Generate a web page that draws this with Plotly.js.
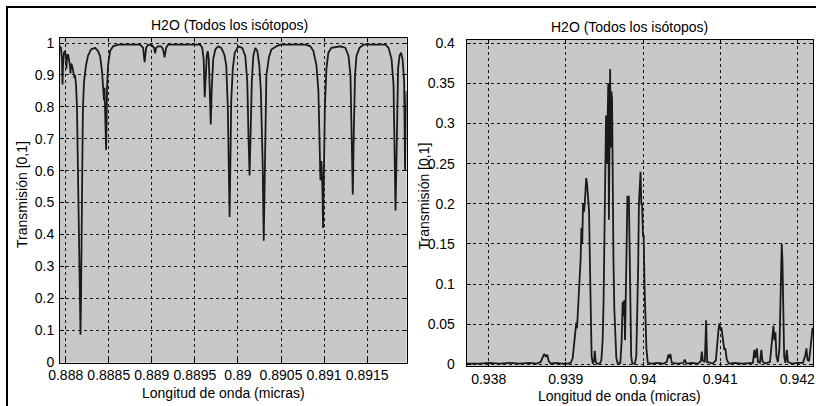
<!DOCTYPE html>
<html>
<head>
<meta charset="utf-8">
<script src="https://cdn.plot.ly/plotly-3.0.1.min.js"></script>
<style>
html,body{margin:0;padding:0;background:#fff;}
#wrap{position:relative;width:816px;height:406px;overflow:hidden;}
#chart{width:816px;height:406px;}
#frame{position:absolute;left:6px;top:6px;width:830px;height:420px;border-top:2px solid #000;border-left:2px solid #000;pointer-events:none;}
</style>
</head>
<body>
<div id="wrap"><div id="chart"></div><div id="frame"></div></div>
<script>
// Left panel: wavelength (micras) and transmission
const wlA = [0.887934,0.887945,0.887957,0.887963,0.887969,0.887980,0.887992,0.888003,0.888009,0.888015,0.888027,0.888038,0.888050,0.888056,0.888062,0.888073,0.888085,0.888097,0.888103,0.888108,0.888120,0.888131,0.888137,0.888143,0.888155,0.888161,0.888172,0.888178,0.888184,0.888190,0.888196,0.888201,0.888213,0.888236,0.888259,0.888294,0.888341,0.888376,0.888399,0.888422,0.888434,0.888445,0.888451,0.888457,0.888463,0.888469,0.888475,0.888480,0.888492,0.888515,0.888550,0.888608,0.888864,0.888899,0.888916,0.888934,0.888957,0.889003,0.889027,0.889038,0.889050,0.889073,0.889108,0.889131,0.889148,0.889166,0.889189,0.889562,0.889585,0.889602,0.889614,0.889626,0.889638,0.889650,0.889661,0.889673,0.889684,0.889696,0.889713,0.889737,0.889771,0.889806,0.889841,0.889864,0.889882,0.889894,0.889903,0.889911,0.889922,0.889940,0.889963,0.890003,0.890050,0.890085,0.890108,0.890123,0.890135,0.890147,0.890161,0.890178,0.890201,0.890225,0.890248,0.890266,0.890278,0.890287,0.890299,0.890307,0.890318,0.890330,0.890347,0.890359,0.890388,0.890446,0.890492,0.890783,0.890841,0.890876,0.890911,0.890934,0.890945,0.890957,0.890969,0.890980,0.890988,0.890998,0.891009,0.891027,0.891050,0.891085,0.891190,0.891248,0.891283,0.891306,0.891322,0.891333,0.891345,0.891359,0.891376,0.891411,0.891457,0.891713,0.891748,0.891783,0.891806,0.891818,0.891829,0.891838,0.891847,0.891859,0.891876,0.891894,0.891911,0.891929,0.891940,0.891952,0.891957];
const trA = [0.99,0.985,0.95,0.87,0.93,0.97,0.975,0.96,0.92,0.955,0.965,0.95,0.93,0.905,0.935,0.93,0.915,0.9,0.89,0.9,0.87,0.80,0.70,0.60,0.44,0.30,0.085,0.2,0.49,0.55,0.70,0.80,0.88,0.93,0.96,0.98,0.985,0.975,0.96,0.91,0.86,0.82,0.86,0.80,0.67,0.665,0.75,0.86,0.93,0.975,0.99,0.995,0.995,0.985,0.94,0.985,0.995,0.993,0.985,0.968,0.985,0.99,0.99,0.98,0.955,0.985,0.995,0.995,0.985,0.95,0.83,0.90,0.96,0.975,0.95,0.85,0.745,0.86,0.95,0.98,0.99,0.985,0.965,0.93,0.80,0.60,0.455,0.60,0.82,0.92,0.97,0.99,0.985,0.96,0.88,0.70,0.585,0.72,0.88,0.96,0.985,0.975,0.93,0.85,0.72,0.62,0.38,0.55,0.80,0.90,0.93,0.955,0.98,0.99,0.995,0.995,0.99,0.975,0.93,0.85,0.72,0.57,0.63,0.55,0.42,0.60,0.80,0.92,0.97,0.985,0.99,0.985,0.96,0.90,0.70,0.525,0.72,0.90,0.96,0.985,0.995,0.995,0.985,0.95,0.87,0.66,0.475,0.60,0.80,0.92,0.96,0.97,0.95,0.88,0.60,0.75,0.85];

// Right panel: wavelength (micras) and transmission
const wlB = [0.937715,0.937883,0.938013,0.938143,0.938272,0.938402,0.938532,0.938623,0.938674,0.938700,0.938720,0.938739,0.938759,0.938778,0.938804,0.938869,0.938947,0.939025,0.939064,0.939089,0.939109,0.939122,0.939135,0.939145,0.939158,0.939170,0.939180,0.939191,0.939202,0.939212,0.939223,0.939234,0.939245,0.939256,0.939264,0.939275,0.939288,0.939301,0.939313,0.939323,0.939334,0.939349,0.939366,0.939375,0.939386,0.939401,0.939440,0.939460,0.939477,0.939489,0.939500,0.939510,0.939521,0.939531,0.939541,0.939550,0.939558,0.939565,0.939574,0.939582,0.939590,0.939599,0.939608,0.939617,0.939628,0.939641,0.939654,0.939673,0.939706,0.939723,0.939736,0.939746,0.939757,0.939767,0.939777,0.939788,0.939798,0.939807,0.939816,0.939826,0.939837,0.939847,0.939861,0.939894,0.939913,0.939926,0.939937,0.939947,0.939957,0.939968,0.939978,0.939988,0.939999,0.940009,0.940019,0.940031,0.940044,0.940062,0.940114,0.940192,0.940269,0.940308,0.940328,0.940341,0.940354,0.940373,0.940451,0.940523,0.940541,0.940561,0.940632,0.940710,0.940749,0.940762,0.940775,0.940801,0.940818,0.940831,0.940866,0.940905,0.940944,0.940963,0.940980,0.940991,0.941002,0.941015,0.941028,0.941041,0.941054,0.941067,0.941086,0.941112,0.941190,0.941281,0.941359,0.941424,0.941443,0.941456,0.941476,0.941489,0.941515,0.941534,0.941547,0.941580,0.941645,0.941664,0.941677,0.941690,0.941703,0.941716,0.941729,0.941748,0.941768,0.941781,0.941790,0.941798,0.941807,0.941817,0.941829,0.941846,0.941863,0.941878,0.941930,0.942008,0.942073,0.942105,0.942118,0.942131,0.942151,0.942170,0.942183,0.942196,0.942209];
const trB = [0.001,0.001,0.002,0.001,0.002,0.001,0.002,0.001,0.003,0.009,0.013,0.010,0.012,0.004,0.001,0.002,0.001,0.001,0.002,0.008,0.025,0.04,0.052,0.045,0.065,0.09,0.10,0.13,0.17,0.15,0.20,0.19,0.20,0.22,0.232,0.225,0.20,0.19,0.12,0.05,0.01,0.001,0.005,0.017,0.004,0.001,0.001,0.005,0.03,0.08,0.15,0.20,0.31,0.25,0.33,0.35,0.18,0.36,0.368,0.27,0.34,0.33,0.15,0.13,0.07,0.03,0.008,0.001,0.002,0.03,0.078,0.06,0.08,0.03,0.07,0.15,0.21,0.2,0.21,0.15,0.06,0.01,0.001,0.001,0.01,0.06,0.12,0.2,0.235,0.24,0.2,0.2,0.16,0.16,0.10,0.05,0.02,0.002,0.001,0.002,0.001,0.003,0.012,0.008,0.013,0.002,0.001,0.002,0.006,0.001,0.002,0.001,0.004,0.016,0.005,0.003,0.055,0.003,0.002,0.001,0.005,0.03,0.045,0.051,0.044,0.046,0.035,0.03,0.018,0.02,0.006,0.001,0.002,0.001,0.002,0.002,0.018,0.008,0.02,0.003,0.002,0.018,0.004,0.001,0.003,0.02,0.04,0.048,0.03,0.04,0.01,0.003,0.02,0.10,0.14,0.15,0.13,0.06,0.01,0.002,0.018,0.003,0.001,0.002,0.002,0.012,0.02,0.006,0.004,0.02,0.035,0.045,0.043];

// Tick values and labels
const xTicksA = [0.888,0.8885,0.889,0.8895,0.89,0.8905,0.891,0.8915];
const xLabelsA = ['0.888','0.8885','0.889','0.8895','0.89','0.8905','0.891','0.8915'];
const yTicksA = [0,0.1,0.2,0.3,0.4,0.5,0.6,0.7,0.8,0.9,1];
const yLabelsA = ['0','0.1','0.2','0.3','0.4','0.5','0.6','0.7','0.8','0.9','1'];
const xTicksB = [0.938,0.939,0.94,0.941,0.942];
const xLabelsB = ['0.938','0.939','0.94','0.941','0.942'];
const yTicksB = [0,0.05,0.1,0.15,0.2,0.25,0.3,0.35,0.4];
const yLabelsB = ['0','0.05','0.1','0.15','0.2','0.25','0.3','0.35','0.4'];

const titleText = 'H2O (Todos los isótopos)';
const xTitle = 'Longitud de onda (micras)';
const yTitle = 'Transmisión [0,1]';

const FONT = 'Liberation Sans, Arial, sans-serif';
const lineStyle = {color:'#1a1a1a', width:1.8};

const axBase = {
  showline:true, linecolor:'#000', linewidth:1, mirror:'ticks',
  ticks:'inside', ticklen:4, tickcolor:'#000', tickwidth:1,
  showgrid:true, gridcolor:'#1a1a1a', griddash:'dot', gridwidth:1,
  zeroline:false, tickmode:'array',
  tickfont:{family:FONT, size:14, color:'#000'}
};

const traces = [
  {x:wlA, y:trA, xaxis:'x', yaxis:'y', mode:'lines', line:lineStyle, hoverinfo:'skip'},
  {x:wlB, y:trB, xaxis:'x2', yaxis:'y2', mode:'lines', line:lineStyle, hoverinfo:'skip'}
];

const layout = {
  width:816, height:406,
  margin:{l:60, r:3, t:38, b:40},
  paper_bgcolor:'#ffffff', plot_bgcolor:'#c8c8c8',
  showlegend:false,
  font:{family:FONT, color:'#000'},
  xaxis:Object.assign({}, axBase, {domain:[0,0.4602], range:[0.887934,0.891957], tickvals:xTicksA, ticktext:xLabelsA, anchor:'y', tickangle:0}),
  yaxis:Object.assign({}, axBase, {domain:[0.0104,1], range:[-0.002,1.016], tickvals:yTicksA, ticktext:yLabelsA, anchor:'x', ticklabelstandoff:2}),
  xaxis2:Object.assign({}, axBase, {domain:[0.5401,1], range:[0.937715,0.942203], tickvals:xTicksB, ticktext:xLabelsB, anchor:'y2', tickangle:0}),
  yaxis2:Object.assign({}, axBase, {domain:[0,0.9939], range:[-0.002,0.404], tickvals:yTicksB, ticktext:yLabelsB, anchor:'x2', ticklabelstandoff:8}),
  annotations:[
    {text:titleText, xref:'paper', yref:'paper', x:0.2251, y:1.0396, xanchor:'center', yanchor:'middle', showarrow:false, font:{family:FONT, size:14, color:'#000'}},
    {text:titleText, xref:'paper', yref:'paper', x:0.7557, y:1.0335, xanchor:'center', yanchor:'middle', showarrow:false, font:{family:FONT, size:14, color:'#000'}},
    {text:xTitle, xref:'paper', yref:'paper', x:0.2165, y:-0.0823, xanchor:'center', yanchor:'middle', showarrow:false, font:{family:FONT, size:14, color:'#000'}},
    {text:xTitle, xref:'paper', yref:'paper', x:0.7424, y:-0.0915, xanchor:'center', yanchor:'middle', showarrow:false, font:{family:FONT, size:14, color:'#000'}},
    {text:yTitle, xref:'paper', yref:'paper', x:-0.0505, y:0.5244, xanchor:'center', yanchor:'middle', textangle:-90, showarrow:false, font:{family:FONT, size:14, color:'#000'}},
    {text:yTitle, xref:'paper', yref:'paper', x:0.4834, y:0.5168, xanchor:'center', yanchor:'middle', textangle:-90, showarrow:false, font:{family:FONT, size:14, color:'#000'}}
  ]
};

Plotly.newPlot('chart', traces, layout, {staticPlot:true, displayModeBar:false});
</script>
</body>
</html>
